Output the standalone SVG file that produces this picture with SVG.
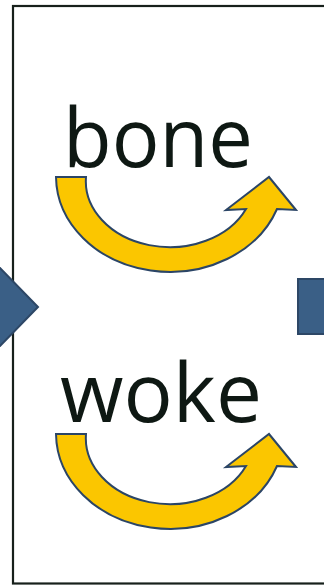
<svg xmlns="http://www.w3.org/2000/svg" width="324" height="586" viewBox="0 0 324 586">
<style>
.word{font-family:"Open Sans","Noto Sans",sans-serif;font-size:82px;fill:#0e1813}
.arrow{fill:#fbc600;stroke:#2b4566;stroke-width:2;stroke-linejoin:miter}
.blue{fill:#3a5f86;stroke:#2d4766;stroke-width:2}
</style>
<defs>
<path id="uarrow" d="M56,177 L86,177 A84 66 0 0 0 246,209 L226,210 L269,177 L296,210 L277,209 A114 96 0 0 1 56,177 Z"/>
</defs>
<rect id="frame" x="13" y="6" width="340" height="577.5" fill="#ffffff" stroke="#17201b" stroke-width="2.2"/>
<g id="left-arrow"><polygon class="blue" points="-40,268 0,268 38,307 0,346 -40,346"/></g>
<g id="right-block"><rect class="blue" x="298" y="279" width="40" height="55"/></g>
<g id="bone">
<text class="word" x="63" y="167" textLength="190" lengthAdjust="spacingAndGlyphs">bone</text>
<use href="#uarrow" class="arrow"/>
</g>
<g id="woke">
<text class="word" x="60" y="422" textLength="202" lengthAdjust="spacingAndGlyphs">woke</text>
<use href="#uarrow" class="arrow" transform="translate(0,257)"/>
</g>
<g id="connectors"></g>
</svg>
